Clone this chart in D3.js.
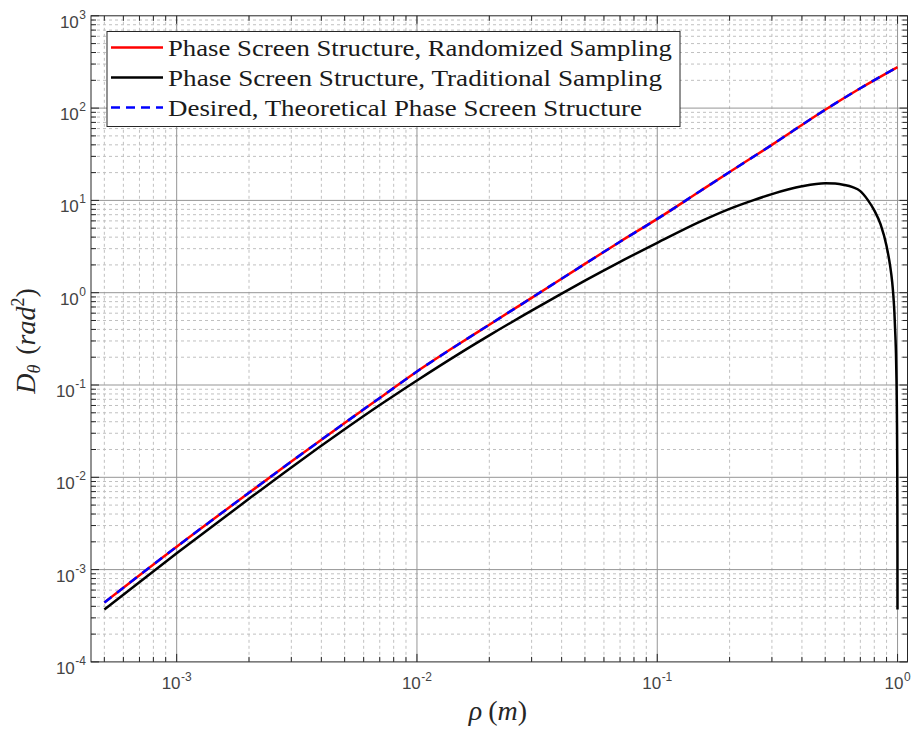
<!DOCTYPE html>
<html>
<head>
<meta charset="utf-8">
<script src="https://cdn.jsdelivr.net/npm/d3@7"></script>
<style>
  html, body { margin: 0; padding: 0; background: #ffffff; }
  svg { display: block; }
</style>
</head>
<body>
<svg id="chart" width="914" height="733"></svg>
<script>
// Separation (m) and structure-function values, D_theta (rad^2)
const rhoTheory = [5e-4, 1e-3, 2e-3, 3e-3, 5e-3, 7e-3, 1e-2, 1.5e-2, 2e-2, 3e-2, 5e-2, 7e-2, 0.1, 0.15, 0.2, 0.3, 0.5, 0.7, 1.0];
const dTheory   = [4.4e-4, 1.77e-3, 6.8e-3, 0.0148, 0.0388, 0.0724, 0.14, 0.28, 0.45, 0.88, 2.05, 3.57, 6.3, 12.5, 20.3, 40, 96, 164, 278];

const rhoRandom = [5e-4, 1e-3, 2e-3, 3e-3, 5e-3, 7e-3, 1e-2, 1.5e-2, 2e-2, 3e-2, 5e-2, 7e-2, 0.1, 0.15, 0.2, 0.3, 0.5, 0.7, 1.0];
const dRandom   = [4.4e-4, 1.77e-3, 6.8e-3, 0.0148, 0.0388, 0.0724, 0.14, 0.28, 0.45, 0.88, 2.05, 3.57, 6.3, 12.5, 20.3, 40, 96, 164, 278];

const rhoTrad = [5e-4, 1e-3, 2e-3, 3e-3, 5e-3, 7e-3, 1e-2, 1.5e-2, 2e-2, 3e-2, 4e-2, 5e-2, 7e-2, 0.1, 0.15, 0.2, 0.25, 0.3, 0.4, 0.5,
                 0.55, 0.6, 0.65, 0.7, 0.75, 0.8, 0.85, 0.9, 0.93, 0.95, 0.96, 0.97, 0.98, 0.985, 0.99, 0.993, 0.995, 0.997, 0.998, 0.999, 0.9995];
const dTrad   = [3.7e-4, 1.5e-3, 5.85e-3, 0.0128, 0.0331, 0.0606, 0.112, 0.219, 0.345, 0.639, 0.978, 1.35, 2.16, 3.47, 5.85, 8.1, 10.0, 11.7, 14.2, 15.3,
                 15.2, 14.7, 13.9, 12.6, 10.2, 7.8, 5.5, 3.2, 2.0, 1.3, 0.95, 0.62, 0.33, 0.22, 0.112, 0.061, 0.033, 0.0128, 5.85e-3, 1.5e-3, 3.7e-4];

const seriesNames = [
  "Phase Screen Structure, Randomized Sampling",
  "Phase Screen Structure, Traditional Sampling",
  "Desired, Theoretical Phase Screen Structure"
];

const xDomain = [4.4e-4, 1.1];
const yDomain = [1e-4, 1e3];
const xMajor = [1e-3, 1e-2, 1e-1, 1e0];
const xMajorExp = ["-3", "-2", "-1", "0"];
const yMajor = [1e-4, 1e-3, 1e-2, 1e-1, 1e0, 1e1, 1e2, 1e3];
const yMajorExp = ["-4", "-3", "-2", "-1", "0", "1", "2", "3"];

(function draw() {
  const svg = d3.select("#chart");
  const pLeft = 91, pRight = 907.5, pTop = 15.8, pBottom = 661.9;

  const x = d3.scaleLog().domain(xDomain).range([pLeft, pRight]);
  const y = d3.scaleLog().domain(yDomain).range([pBottom, pTop]);

  function minorTicks(domain) {
    const out = [];
    const lo = Math.floor(Math.log10(domain[0])), hi = Math.ceil(Math.log10(domain[1]));
    for (let e = lo; e <= hi; e++) {
      for (let k = 2; k <= 9; k++) {
        const v = k * Math.pow(10, e);
        if (v > domain[0] && v < domain[1]) out.push(v);
      }
    }
    return out;
  }
  const xMinor = minorTicks(xDomain);
  const yMinor = minorTicks(yDomain);

  const axisColor = "#262626";
  const g = svg.append("g");

  // Minor grid (dotted)
  g.append("g").selectAll("line").data(xMinor).join("line")
    .attr("x1", d => x(d)).attr("x2", d => x(d)).attr("y1", pTop).attr("y2", pBottom)
    .attr("stroke", "#c0c0c0").attr("stroke-width", 1).attr("stroke-dasharray", "3,3");
  g.append("g").selectAll("line").data(yMinor).join("line")
    .attr("y1", d => y(d)).attr("y2", d => y(d)).attr("x1", pLeft).attr("x2", pRight)
    .attr("stroke", "#c0c0c0").attr("stroke-width", 1).attr("stroke-dasharray", "3,3");

  // Major grid (solid)
  g.append("g").selectAll("line").data(xMajor).join("line")
    .attr("x1", d => x(d)).attr("x2", d => x(d)).attr("y1", pTop).attr("y2", pBottom)
    .attr("stroke", "#959595").attr("stroke-width", 1);
  g.append("g").selectAll("line").data(yMajor.filter(v => v > yDomain[0] && v < yDomain[1])).join("line")
    .attr("y1", d => y(d)).attr("y2", d => y(d)).attr("x1", pLeft).attr("x2", pRight)
    .attr("stroke", "#959595").attr("stroke-width", 1);

  // Ticks on all four sides, pointing inward
  function ticksAlong(values, len, horizontal) {
    values.forEach(v => {
      if (horizontal) {
        const px = x(v);
        g.append("line").attr("x1", px).attr("x2", px).attr("y1", pBottom).attr("y2", pBottom - len).attr("stroke", axisColor);
        g.append("line").attr("x1", px).attr("x2", px).attr("y1", pTop).attr("y2", pTop + len).attr("stroke", axisColor);
      } else {
        const py = y(v);
        g.append("line").attr("y1", py).attr("y2", py).attr("x1", pLeft).attr("x2", pLeft + len).attr("stroke", axisColor);
        g.append("line").attr("y1", py).attr("y2", py).attr("x1", pRight).attr("x2", pRight - len).attr("stroke", axisColor);
      }
    });
  }
  ticksAlong(xMajor, 8, true);
  ticksAlong(xMinor, 5, true);
  ticksAlong(yMajor, 8, false);
  ticksAlong(yMinor, 5, false);

  // Curves
  const line = d3.line().x(d => x(d[0])).y(d => y(d[1])).curve(d3.curveMonotoneX);
  const zip = (a, b) => a.map((v, i) => [v, b[i]]);

  const plot = g.append("g");
  plot.append("path").datum(zip(rhoRandom, dRandom)).attr("d", line)
    .attr("fill", "none").attr("stroke", "#ff0000").attr("stroke-width", 2.5);
  plot.append("path").datum(zip(rhoTrad, dTrad)).attr("d", line)
    .attr("fill", "none").attr("stroke", "#000000").attr("stroke-width", 2.5);
  plot.append("path").datum(zip(rhoTheory, dTheory)).attr("d", line)
    .attr("fill", "none").attr("stroke", "#0000ff").attr("stroke-width", 2.5)
    .attr("stroke-dasharray", "9,7");

  // Axis frame
  g.append("rect").attr("x", pLeft).attr("y", pTop).attr("width", pRight - pLeft).attr("height", pBottom - pTop)
    .attr("fill", "none").attr("stroke", axisColor).attr("stroke-width", 1);

  // Tick labels
  const tickFont = "'Liberation Sans', Arial, sans-serif";
  xMajor.forEach((v, i) => {
    const t = g.append("text").attr("x", x(v)).attr("y", 689)
      .attr("text-anchor", "middle").style("font-family", tickFont).attr("fill", "#444444");
    t.append("tspan").style("font-size", "17px").text("10");
    t.append("tspan").style("font-size", "12px").attr("dy", -8).attr("dx", 0.5).text(xMajorExp[i]);
  });
  yMajor.forEach((v, i) => {
    const t = g.append("text").attr("x", 86).attr("y", y(v) + 12)
      .attr("text-anchor", "end").style("font-family", tickFont).attr("fill", "#444444");
    t.append("tspan").style("font-size", "17px").text("10");
    t.append("tspan").style("font-size", "12px").attr("dy", -9).attr("dx", 0.5).text(yMajorExp[i]);
  });

  // Axis titles
  const serif = "'Liberation Serif', 'DejaVu Serif', serif";
  const xl = g.append("text").attr("x", 498).attr("y", 720).attr("text-anchor", "middle")
    .style("font-family", serif).style("font-size", "28px").attr("fill", "#262626");
  xl.append("tspan").attr("font-style", "italic").text("ρ");
  xl.append("tspan").attr("dx", 6).text("(");
  xl.append("tspan").attr("font-style", "italic").text("m");
  xl.append("tspan").text(")");

  const yl = g.append("text").attr("transform", "translate(35,341) rotate(-90)").attr("text-anchor", "middle")
    .style("font-family", serif).style("font-size", "28px").attr("fill", "#262626");
  yl.append("tspan").attr("font-style", "italic").text("D");
  yl.append("tspan").attr("font-style", "italic").style("font-size", "18px").attr("dy", 5).text("θ");
  yl.append("tspan").attr("dy", -5).attr("dx", 10).text("(");
  yl.append("tspan").attr("font-style", "italic").text("rad");
  yl.append("tspan").style("font-size", "18px").attr("dy", -11).text("2");
  yl.append("tspan").attr("dy", 11).text(")");

  // Legend
  const lg = g.append("g");
  lg.append("rect").attr("x", 107).attr("y", 31.5).attr("width", 573).attr("height", 95)
    .attr("fill", "#ffffff").attr("stroke", axisColor).attr("stroke-width", 1);
  const rows = [47.5, 77.5, 107.5];
  const legStyles = [
    { color: "#ff0000", dash: null },
    { color: "#000000", dash: null },
    { color: "#0000ff", dash: "9,6" }
  ];
  const textEnds = [672, 662, 642];
  seriesNames.forEach((name, i) => {
    const ln = lg.append("line").attr("x1", 111).attr("x2", 163).attr("y1", rows[i]).attr("y2", rows[i])
      .attr("stroke", legStyles[i].color).attr("stroke-width", 2.5);
    if (legStyles[i].dash) ln.attr("stroke-dasharray", legStyles[i].dash);
    lg.append("text").attr("x", 168).attr("y", rows[i] + 8)
      .style("font-family", serif).style("font-size", "24px").attr("fill", "#1a1a1a")
      .attr("textLength", textEnds[i] - 168).attr("lengthAdjust", "spacingAndGlyphs")
      .text(name);
  });
})();
</script>
</body>
</html>
